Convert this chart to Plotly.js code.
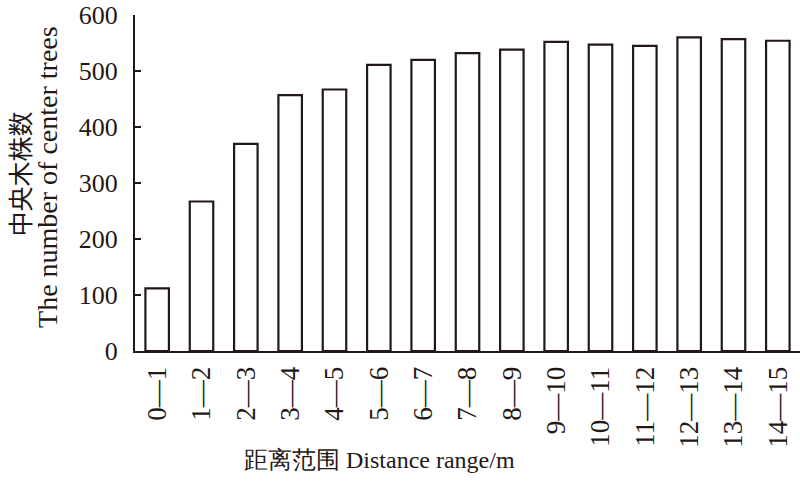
<!DOCTYPE html>
<html>
<head>
<meta charset="utf-8">
<script src="https://cdn.plot.ly/plotly-3.0.1.min.js"></script>
<style>html,body{margin:0;padding:0;background:#fff;}#chart{width:800px;height:504px;}</style>
</head>
<body>
<div id="chart"></div>
<script>
const categories = ["0—1","1—2","2—3","3—4","4—5","5—6","6—7","7—8","8—9","9—10","10—11","11—12","12—13","13—14","14—15"];
const centerTrees = [112, 267, 370, 457, 467, 511, 520, 532, 538, 552, 547, 545, 560, 557, 554];
const yTicks = [0, 100, 200, 300, 400, 500, 600];

const ink = '#231815';
const serif = '"Liberation Serif", "Times New Roman", serif';

const trace = {
  type: 'bar',
  x: categories,
  y: centerTrees,
  width: 0.53,
  marker: {color: '#ffffff', line: {color: ink, width: 2.2}},
  hoverinfo: 'skip'
};

const layout = {
  width: 800, height: 504,
  margin: {l: 135, r: 0, t: 15, b: 153},
  paper_bgcolor: '#fff', plot_bgcolor: '#fff',
  showlegend: false,
  font: {family: serif, color: ink, size: 27},
  xaxis: {
    type: 'category',
    range: [-0.5, 14.5],
    showline: true, linecolor: ink, linewidth: 2,
    ticks: '', showgrid: false, zeroline: false,
    tickangle: -90,
    tickfont: {family: serif, size: 27, color: ink},
    ticklabelstandoff: 3
  },
  yaxis: {
    range: [0, 600],
    tickvals: yTicks,
    showline: true, linecolor: ink, linewidth: 2,
    ticks: 'inside', ticklen: 6, tickwidth: 2, tickcolor: ink,
    showgrid: false, zeroline: false,
    ticklabeloverflow: 'allow',
    tickfont: {family: serif, size: 26, color: ink},
    ticklabelstandoff: 10
  },
  annotations: [
    {text: '中央木株数', xref: 'paper', yref: 'paper', x: -0.175, y: 0.527,
     xanchor: 'center', yanchor: 'middle', textangle: -90, showarrow: false,
     font: {family: '"Noto Sans CJK SC", sans-serif', size: 25, color: ink}},
    {text: 'The number of center trees', xref: 'paper', yref: 'paper', x: -0.1308, y: 0.518,
     xanchor: 'center', yanchor: 'middle', textangle: -90, showarrow: false,
     font: {family: serif, size: 28, color: ink}},
    {text: '距离范围 Distance range/m', xref: 'paper', yref: 'paper', x: 0.367, y: -0.325,
     xanchor: 'center', yanchor: 'middle', showarrow: false,
     font: {family: serif, size: 24, color: ink}}
  ]
};

Plotly.newPlot('chart', [trace], layout, {staticPlot: true, displayModeBar: false});
</script>
</body>
</html>
